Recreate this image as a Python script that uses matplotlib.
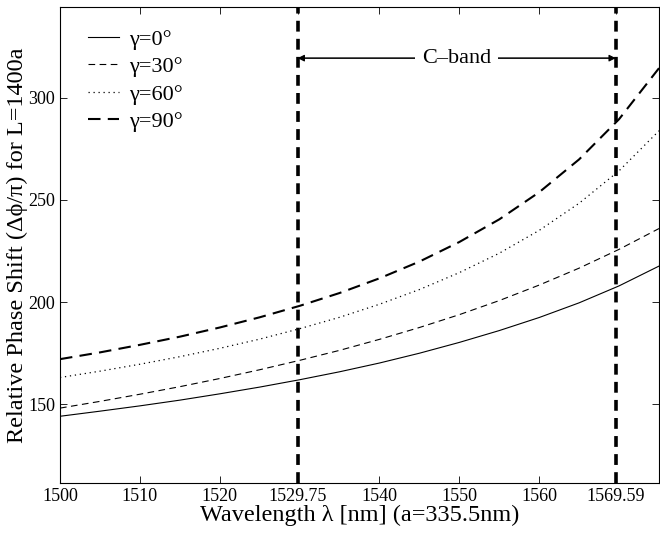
import matplotlib
matplotlib.use("Agg")
import matplotlib.pyplot as plt

# wavelength samples [nm]
wavelength = [1500, 1505, 1510, 1515, 1520, 1525, 1530, 1535,
              1540, 1545, 1550, 1555, 1560, 1565, 1570, 1575]

# relative phase shift (dphi/pi) for L=1400a
shift_g0 = [144.0, 146.5, 149.1, 151.9, 155.0, 158.3, 161.9, 165.8,
            170.1, 174.9, 180.2, 186.0, 192.4, 199.6, 207.9, 217.6]
shift_g30 = [148.0, 151.3, 154.8, 158.5, 162.5, 166.8, 171.4, 176.3,
             181.7, 187.5, 193.8, 200.7, 208.3, 216.6, 225.8, 236.0]
shift_g60 = [163.0, 166.1, 169.5, 173.2, 177.3, 181.8, 186.9, 192.5,
             198.9, 206.1, 214.4, 223.9, 235.1, 248.4, 264.3, 283.9]
shift_g90 = [172.0, 175.3, 179.0, 183.0, 187.5, 192.5, 198.1, 204.4,
             211.6, 219.8, 229.4, 240.5, 253.8, 269.9, 289.6, 314.6]

band_edges = [1529.75, 1569.59]
band_arrow_y = 319.5

xtick_vals = [1500, 1510, 1520, 1529.75, 1540, 1550, 1560, 1569.59]
xtick_labels = ["1500", "1510", "1520", "1529.75", "1540", "1550", "1560", "1569.59"]
ytick_vals = [150, 200, 250, 300]

plt.rcParams["font.family"] = ["Liberation Serif", "DejaVu Serif"]

fig = plt.figure(figsize=(6.6, 5.33), dpi=100)
ax = fig.add_axes([0.0909, 0.0938, 0.9076, 0.8932])

ax.plot(wavelength, shift_g0, color="black", lw=0.8, ls="-", label="γ=0°")
ax.plot(wavelength, shift_g30, color="black", lw=0.8, ls=(0, (6, 4)), label="γ=30°")
ax.plot(wavelength, shift_g60, color="black", lw=0.9, ls=(0, (1, 3)), label="γ=60°")
ax.plot(wavelength, shift_g90, color="black", lw=1.5, ls=(0, (6, 3.5)), label="γ=90°")

for xe in band_edges:
    ax.axvline(xe, color="black", lw=2.6, ls=(0, (3, 2.0)))

# double-headed arrow marking the band, label sits on a white patch
for a, b in [(0, 1), (1, 0)]:
    ax.annotate("", xy=(band_edges[a], band_arrow_y), xytext=(band_edges[b], band_arrow_y),
                arrowprops=dict(arrowstyle="-|>", color="black", lw=0.8,
                                mutation_scale=10, shrinkA=0, shrinkB=0))
ax.text(sum(band_edges) / 2, band_arrow_y, "C–band", ha="center", va="center",
        fontsize=16, bbox=dict(facecolor="white", edgecolor="none", pad=5))

ax.set_xlim(1500, 1575)
ax.set_ylim(111.3, 344.6)
ax.set_xticks(xtick_vals)
ax.set_xticklabels(xtick_labels)
ax.set_yticks(ytick_vals)
ax.tick_params(direction="in", top=True, right=True, labelsize=13, length=5, width=0.6)
for sp in ax.spines.values():
    sp.set_linewidth(0.8)

ax.set_xlabel("Wavelength λ [nm] (a=335.5nm)", fontsize=17.5, labelpad=0)
ax.set_ylabel("Relative Phase Shift (Δϕ/π) for L=1400a", fontsize=17.5, labelpad=0)

ax.legend(loc="upper left", frameon=False, fontsize=16, handlelength=1.4,
          handletextpad=0.45, labelspacing=0.31, borderaxespad=0.6,
          bbox_to_anchor=(0.009, 1.0))

fig.savefig("out.png", dpi=100)
